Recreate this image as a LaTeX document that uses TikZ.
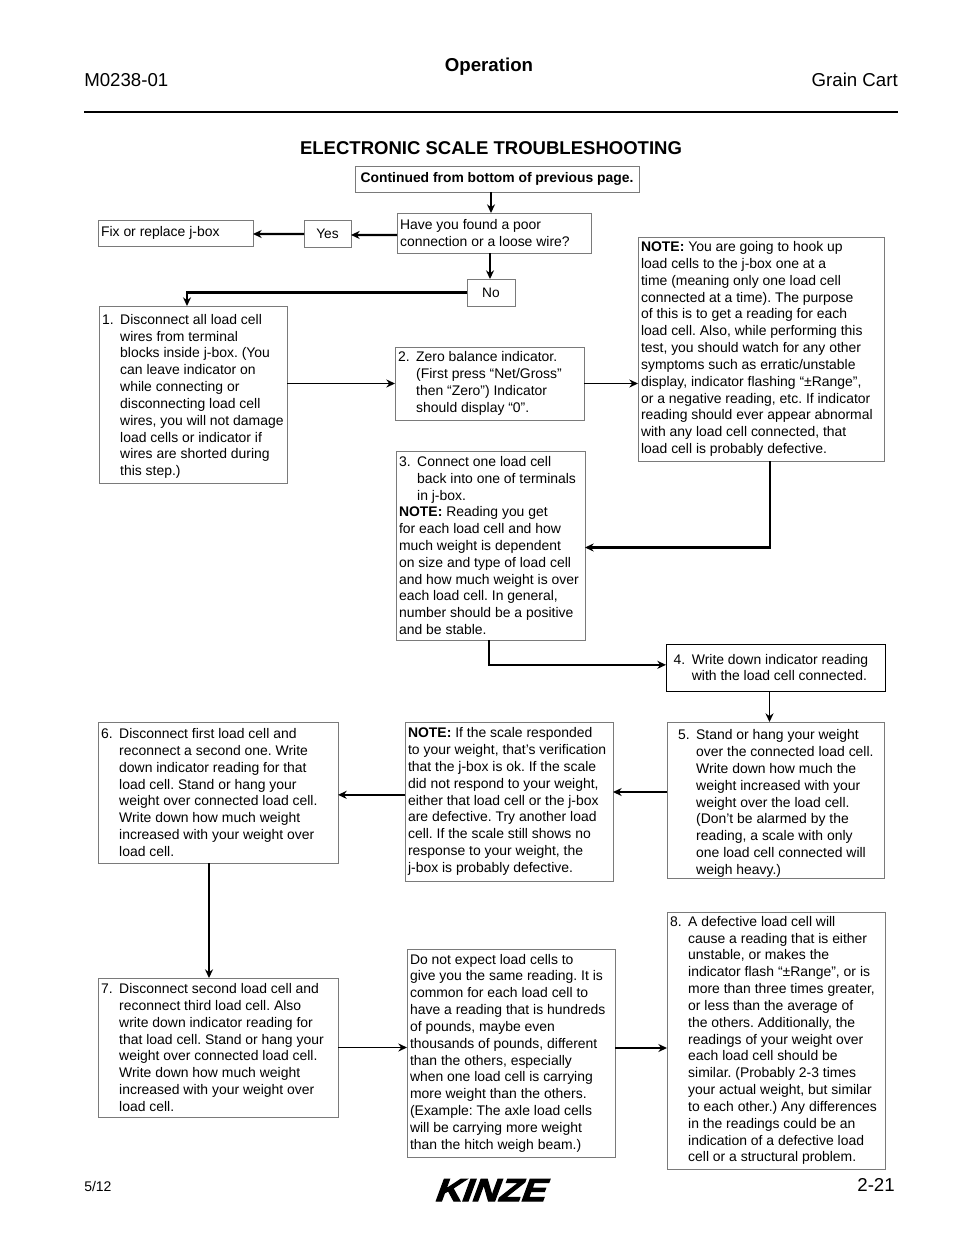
\documentclass[tikz,border=0pt]{standalone}
\usepackage{fontspec}
\setmainfont{Liberation Sans}
\newfontfamily\logofont[FakeSlant=0.32,FakeBold=3]{Liberation Sans Bold}
\usetikzlibrary{arrows.meta, calc}
\definecolor{boxgray}{HTML}{7A7A7A}
\newcommand{\ind}{\hspace*{13.6pt}}
\newcommand{\numitem}[1]{\makebox[13.6pt][l]{#1}}
\tikzset{
    sized/.style 2 args={minimum width=#1*0.75pt, minimum height=#2*0.75pt},
    wrapped/.style 2 args={sized={#1}{#2}, text width=#1*0.75pt-4.6pt},
    flowbox/.style={rectangle, draw=boxgray, line width=0.6pt, inner sep=2.3pt, outer sep=0pt, align=flush left, font=\fontsize{10.45}{12.62}\selectfont},
    smallbox/.style={flowbox, align=center, font=\fontsize{10.3}{12.62}\selectfont},
    label/.style={inner sep=0pt, font=\fontsize{14}{16}\selectfont},
    arrow/.style={line width=1.3pt, -{Stealth[length=6.5pt,width=6pt]}, color=black},
    heavyarrow/.style={arrow, line width=1.8pt}
}
\begin{document}
\frenchspacing
\begin{tikzpicture}[x=0.75pt, y=-0.75pt]
    \useasboundingbox (0,0) rectangle (954,1235);
    % page header
    \node (doc) [label, anchor=west] at (84,80) {M0238-01};
    \node (chapter) [label, anchor=center, font=\fontsize{14}{16}\selectfont\bfseries] at (489,66.5) {Operation};
    \node (product) [label, anchor=east] at (898,80) {Grain Cart};
    \draw [line width=1.5pt] (84,112) -- (898,112);
    \node (title) [label, anchor=center, font=\fontsize{13.9}{16}\selectfont\bfseries] at (491,148) {ELECTRONIC SCALE TROUBLESHOOTING};

    % boxes
    \node (cont) [smallbox, sized={284}{26}, font=\fontsize{10.4}{12.62}\selectfont\bfseries] at (497,179) {Continued from bottom of previous page.};
    \node (found) [flowbox, wrapped={194}{40}] at (494,233) {Have you found a poor\\connection or a loose wire?};
    \node (fix) [flowbox, wrapped={155}{26}] at (175.5,233) {Fix or replace j-box};
    \node (yes) [smallbox, sized={47}{27}] at (327.5,233.5) {Yes};
    \node (no) [smallbox, sized={48}{27}] at (491,292.5) {No};
    \node (step1) [flowbox, wrapped={188}{177}] at (193,394.5) {\rule{0pt}{10.5pt}\numitem{1.}Disconnect all load cell\\\ind wires from terminal\\\ind blocks inside j-box. (You\\\ind can leave indicator on\\\ind while connecting or\\\ind disconnecting load cell\\\ind wires, you will not damage\\\ind load cells or indicator if\\\ind wires are shorted during\\\ind this step.)};
    \node (step2) [flowbox, wrapped={189}{73}] at (489.5,383.5) {\numitem{2.}Zero balance indicator.\\\ind (First press “Net/Gross”\\\ind then “Zero”) Indicator\\\ind should display “0”.};
    \node (note1) [flowbox, wrapped={246}{224}] at (761,349) {\textbf{NOTE:} You are going to hook up\\load cells to the j-box one at a\\time (meaning only one load cell\\connected at a time). The purpose\\of this is to get a reading for each\\load cell. Also, while performing this\\test, you should watch for any other\\symptoms such as erratic/unstable\\display, indicator flashing “±Range”,\\or a negative reading, etc. If indicator\\reading should ever appear abnormal\\with any load cell connected, that\\load cell is probably defective.};
    \node (step3) [flowbox, wrapped={189}{189}] at (490.5,545.5) {\numitem{3.}Connect one load cell\\\ind back into one of terminals\\\ind in j-box.\\\textbf{NOTE:} Reading you get\\for each load cell and how\\much weight is dependent\\on size and type of load cell\\and how much weight is over\\each load cell. In general,\\number should be a positive\\and be stable.};
    \node (step4) [flowbox, wrapped={219}{47}, draw=black] at (775.5,667.5) {\hspace*{3.5pt}\numitem{4.}Write down indicator reading\\\hspace*{3.5pt}\ind with the load cell connected.};
    \node (step5) [flowbox, wrapped={217}{156}, inner ysep=0pt] at (775.5,800) {\rule{0pt}{12.9pt}\hspace*{6pt}\numitem{5.}Stand or hang your weight\\\hspace*{6pt}\ind over the connected load cell.\\\hspace*{6pt}\ind Write down how much the\\\hspace*{6pt}\ind weight increased with your\\\hspace*{6pt}\ind weight over the load cell.\\\hspace*{6pt}\ind (Don’t be alarmed by the\\\hspace*{6pt}\ind reading, a scale with only\\\hspace*{6pt}\ind one load cell connected will\\\hspace*{6pt}\ind weigh heavy.)};
    \node (noteb) [flowbox, wrapped={208}{159}] at (509,801.5) {\textbf{NOTE:} If the scale responded\\to your weight, that’s verification\\that the j-box is ok. If the scale\\did not respond to your weight,\\either that load cell or the j-box\\are defective. Try another load\\cell. If the scale still shows no\\response to your weight, the\\j-box is probably defective.};
    \node (step6) [flowbox, wrapped={240}{141}] at (218,792.5) {\numitem{6.}Disconnect first load cell and\\\ind reconnect a second one. Write\\\ind down indicator reading for that\\\ind load cell. Stand or hang your\\\ind weight over connected load cell.\\\ind Write down how much weight\\\ind increased with your weight over\\\ind load cell.};
    \node (step7) [flowbox, wrapped={240}{139}] at (218,1047.5) {\numitem{7.}Disconnect second load cell and\\\ind reconnect third load cell. Also\\\ind write down indicator reading for\\\ind that load cell. Stand or hang your\\\ind weight over connected load cell.\\\ind Write down how much weight\\\ind increased with your weight over\\\ind load cell.};
    \node (notec) [flowbox, wrapped={208}{208}] at (511,1053) {Do not expect load cells to\\give you the same reading. It is\\common for each load cell to\\have a reading that is hundreds\\of pounds, maybe even\\thousands of pounds, different\\than the others, especially\\when one load cell is carrying\\more weight than the others.\\(Example: The axle load cells\\will be carrying more weight\\than the hitch weigh beam.)};
    \node (step8) [flowbox, wrapped={218}{257}] at (776,1040.5) {\numitem{8.}A defective load cell will\\\ind cause a reading that is either\\\ind unstable, or makes the\\\ind indicator flash “±Range”, or is\\\ind more than three times greater,\\\ind or less than the average of\\\ind the others. Additionally, the\\\ind readings of your weight over\\\ind each load cell should be\\\ind similar. (Probably 2-3 times\\\ind your actual weight, but similar\\\ind to each other.) Any differences\\\ind in the readings could be an\\\ind indication of a defective load\\\ind cell or a structural problem.};

    % page footer
    \node (date) [label, anchor=west, font=\fontsize{10.5}{12}\selectfont] at (84,1186) {5/12};
    \node (logo) [inner sep=0pt, xscale=1.15, font=\fontsize{24}{24}\logofont] at (489,1190) {KINZE};
    \node (page) [label, anchor=east] at (895,1185) {2-21};

    % connectors
    \draw [arrow] ([xshift=-4.5pt]cont.south) -- ([xshift=-2.25pt]found.north);
    \draw [heavyarrow] ([yshift=-1.5pt]found.west) -- ([yshift=-1.1pt]yes.east);
    \draw [heavyarrow] ([yshift=-0.4pt]yes.west) -- ([yshift=-0.75pt]fix.east);
    \draw [arrow] ([xshift=-3pt]found.south) -- ([xshift=-0.75pt]no.north);
    \draw [heavyarrow] (no.west) -| ([xshift=-4.5pt]step1.north);
    \draw [arrow] (step1.east |- step2.west) -- (step2.west);
    \draw [arrow] (step2.east) -- (step2.east -| note1.west);
    \draw [heavyarrow] ([xshift=6.75pt]note1.south) |- ([yshift=-1.5pt]step3.east);
    \draw [heavyarrow] ([xshift=-1pt]step3.south) |- ([yshift=2pt]step4.west);
    \draw [arrow] ([xshift=-4.5pt]step4.south) -- ([xshift=-4.5pt]step5.north);
    \draw [heavyarrow] ([yshift=6pt]step5.west) -- ([yshift=6pt]step5.west -| noteb.east);
    \draw [arrow] ([yshift=5pt]noteb.west) -- ([yshift=5pt]noteb.west -| step6.east);
    \draw [arrow] ([xshift=-6.75pt]step6.south) -- ([xshift=-6.75pt]step7.north);
    \draw [arrow] (step7.east) -- (step7.east -| notec.west);
    \draw [arrow] ([yshift=3.75pt]notec.east) -- ([yshift=3.75pt]notec.east -| step8.west);
\end{tikzpicture}
\end{document}
